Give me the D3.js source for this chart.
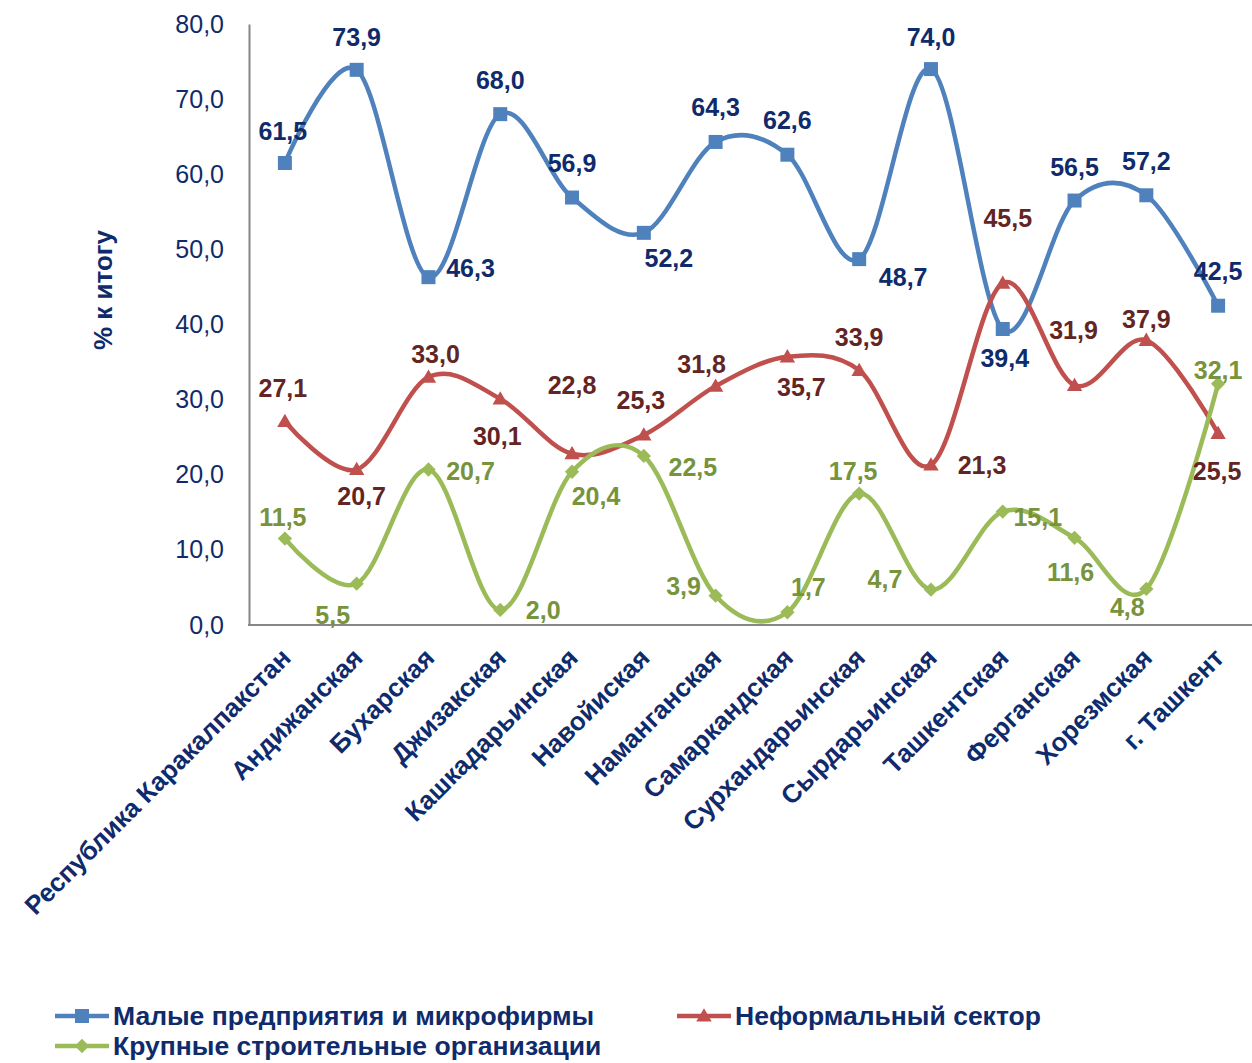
<!DOCTYPE html>
<html><head><meta charset="utf-8">
<script src="https://cdn.jsdelivr.net/npm/d3@7"></script>
<style>
body{margin:0;background:#fff;}
svg{display:block;font-family:"Liberation Sans",Arial,sans-serif;}
</style></head>
<body>
<svg id="chart" width="1252" height="1063"></svg>
<script>
// ---- data ----
const categories = ["Республика Каракалпакстан","Андижанская","Бухарская","Джизакская","Кашкадарьинская","Навойиская","Наманганская","Самаркандская","Сурхандарьинская","Сырдарьинская","Ташкентская","Ферганская","Хорезмская","г. Ташкент"];
const smallFirms = [61.5,73.9,46.3,68.0,56.9,52.2,64.3,62.6,48.7,74.0,39.4,56.5,57.2,42.5];
const informal = [27.1,20.7,33.0,30.1,22.8,25.3,31.8,35.7,33.9,21.3,45.5,31.9,37.9,25.5];
const largeOrgs = [11.5,5.5,20.7,2.0,20.4,22.5,3.9,1.7,17.5,4.7,15.1,11.6,4.8,32.1];
const seriesNames = ["Малые предприятия и микрофирмы","Неформальный сектор","Крупные строительные организации"];
const yTicks = [0,10,20,30,40,50,60,70,80];
const yTitle = "% к итогу";

// ---- label placement (layout only) ----
const blueOff = [[-2,-32],[0,-33],[42,-9],[0,-34],[0,-34],[25,25],[0,-35],[0,-34],[44,18],[0,-32],[2,29],[0,-33],[0,-34],[0,-34]];
const redOff = [[-2,-33],[5,27],[7,-23],[-3,37],[0,-68],[-3,-35],[-14,-22],[14,30],[0,-33],[51,0],[5,-65],[-1,-55],[0,-21],[-1,38]];
const greenOff = [[-2,-21],[-24,32],[42,2],[43,0],[24,25],[49,11],[-32,-9],[21,-25],[-6,-22],[-46,-10],[35,6],[-4,34],[-19,18],[0,-14]];

const svg = d3.select("#chart");
const x = d3.scalePoint().domain(categories).range([249,1254]).padding(0.5);
const y = d3.scaleLinear().domain([0,80]).range([625,24]);
const fmt = v => d3.format(".1f")(v).replace(".", ",");

const series = [
  {name: seriesNames[0], values: smallFirms, color:"#4F81BD", label:"#0F2B6B", marker:"square", off: blueOff},
  {name: seriesNames[1], values: informal, color:"#C0504D", label:"#632523", marker:"triangle", off: redOff},
  {name: seriesNames[2], values: largeOrgs, color:"#9BBB59", label:"#77933C", marker:"diamond", off: greenOff}
];

// axes
const yAxis = d3.axisLeft(y).tickValues(yTicks).tickSize(0).tickPadding(25).tickFormat(fmt);
const gy = svg.append("g").attr("transform","translate(249,0)").call(yAxis);
gy.select(".domain").attr("stroke","#868686").attr("stroke-width",2);
gy.selectAll("text").attr("font-size",25).attr("fill","#0F2B6B").attr("font-family","Liberation Sans, Arial, sans-serif");

const xAxis = d3.axisBottom(x).tickSize(0).tickFormat("");
const gx = svg.append("g").attr("transform","translate(0,625)").call(xAxis);
gx.select(".domain").attr("stroke","#868686").attr("stroke-width",2).attr("d","M248,0H1252");

// category labels
svg.append("g").selectAll("text").data(categories).join("text")
  .attr("transform", d => `translate(${x(d)+1},${653}) rotate(-45)`)
  .attr("text-anchor","end").attr("dy","0.35em")
  .attr("font-size",26).attr("font-weight","bold").attr("fill","#0F2B6B")
  .text(d => d);

// y title
svg.append("text").attr("transform","translate(103,290) rotate(-90)")
  .attr("text-anchor","middle").attr("dy","0.35em")
  .attr("font-size",26).attr("font-weight","bold").attr("fill","#0F2B6B").text(yTitle);

const line = d3.line().x((d,i)=>x(categories[i])).y(d=>y(d)).curve(d3.curveCatmullRom.alpha(0));

function markerPath(type, s){
  if(type==="square") return `M${-s/2},${-s/2}h${s}v${s}h${-s}Z`;
  if(type==="triangle") return `M0,${-s*0.55}L${s*0.55},${s*0.4}L${-s*0.55},${s*0.4}Z`;
  return `M0,${-s*0.55}L${s*0.55},0L0,${s*0.55}L${-s*0.55},0Z`;
}

series.forEach(s => {
  const g = svg.append("g");
  g.append("path").attr("d", line(s.values)).attr("fill","none").attr("stroke",s.color).attr("stroke-width",4.5);
  g.selectAll("path.m").data(s.values).join("path").attr("class","m")
    .attr("transform",(d,i)=>`translate(${x(categories[i])},${y(d)})`)
    .attr("d", markerPath(s.marker, s.marker==="diamond"?13:14)).attr("fill",s.color);
});
series.forEach(s => {
  svg.append("g").selectAll("text").data(s.values).join("text")
    .attr("x",(d,i)=>x(categories[i]) + s.off[i][0])
    .attr("y",(d,i)=>y(d) + s.off[i][1])
    .attr("text-anchor","middle").attr("dy","0.35em")
    .attr("font-size",25).attr("font-weight","bold").attr("fill",s.label)
    .text(d => fmt(d));
});

// legend
const legendItems = [
  {s: series[0], x: 55, y: 1016},
  {s: series[1], x: 677, y: 1016},
  {s: series[2], x: 55, y: 1046}
];
legendItems.forEach(it => {
  const g = svg.append("g").attr("transform",`translate(${it.x},${it.y})`);
  g.append("line").attr("x1",0).attr("x2",54).attr("stroke",it.s.color).attr("stroke-width",4.5);
  g.append("path").attr("transform","translate(27,0)").attr("d", markerPath(it.s.marker, it.s.marker==="diamond"?13:14)).attr("fill",it.s.color);
  g.append("text").attr("x",58).attr("dy","0.35em").attr("font-size",26.5).attr("font-weight","bold").attr("fill","#0F2B6B").text(it.s.name);
});
</script>
</body></html>
